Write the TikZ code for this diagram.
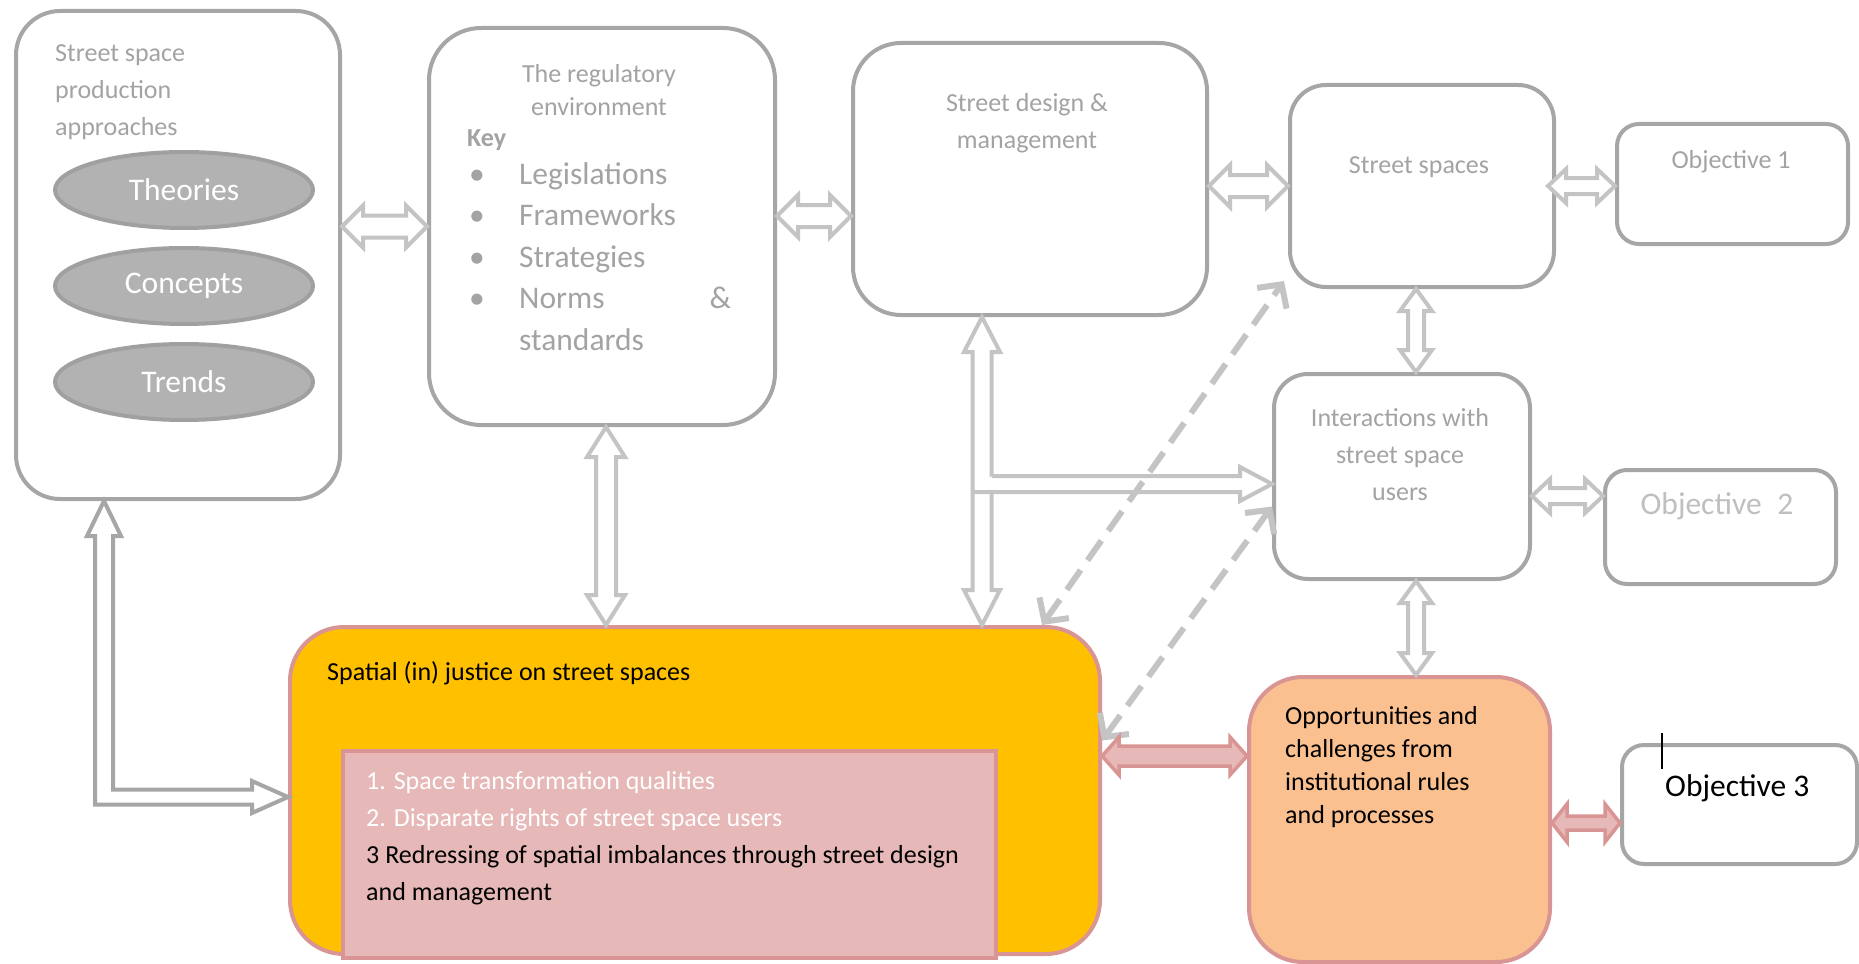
\documentclass[tikz,border=0pt]{standalone}
\usepackage{fontspec}
\setmainfont{Carlito}
\usetikzlibrary{arrows.meta, calc, positioning, shapes.geometric}

\definecolor{boxgrey}{HTML}{A6A6A6}
\definecolor{textgrey}{HTML}{A3A3A3}
\definecolor{lightgrey}{HTML}{BFBFBF}
\definecolor{arrowgrey}{HTML}{C4C4C4}
\definecolor{ovalfill}{HTML}{B2B2B2}
\definecolor{ovalline}{HTML}{A0A0A0}
\definecolor{justfill}{HTML}{FFC000}
\definecolor{pinkline}{HTML}{D99594}
\definecolor{pinkfill}{HTML}{E6B8B7}
\definecolor{oppfill}{HTML}{FAC090}

\tikzset{
  x=1pt, y=-1pt, % one unit is one pixel, y runs downwards
  box/.style={draw=boxgrey, line width=4pt, fill=white, anchor=north west,
    inner sep=0pt},
  redbox/.style={box, draw=pinkline},
  topic/.style={ellipse, draw=ovalline, fill=ovalfill, line width=4pt,
    minimum width=258pt, minimum height=76pt, text=white,
    font=\fontsize{31.5}{38}\selectfont},
  txt/.style={inner sep=0pt, text=textgrey, align=left,
    font=\fontsize{26}{37}\selectfont},
  bigtxt/.style={txt, font=\fontsize{31.5}{41.5}\selectfont},
  % head length, head half width, shaft half width
  arrowsize/.code n args={3}{\def\ahl{#1}\def\ahw{#2}\def\asw{#3}},
  arrowsize={21pt}{21pt}{11pt},
  % hollow block arrow with a head at each end
  twohead/.style={to path={
      -- ($(\tikztostart)!\ahl!(\tikztotarget)!\ahw!90:(\tikztotarget)$)
      -- ($(\tikztostart)!\ahl!(\tikztotarget)!\asw!90:(\tikztotarget)$)
      -- ($(\tikztotarget)!\ahl!(\tikztostart)!\asw!-90:(\tikztostart)$)
      -- ($(\tikztotarget)!\ahl!(\tikztostart)!\ahw!-90:(\tikztostart)$)
      -- (\tikztotarget)
      -- ($(\tikztotarget)!\ahl!(\tikztostart)!\ahw!90:(\tikztostart)$)
      -- ($(\tikztotarget)!\ahl!(\tikztostart)!\asw!90:(\tikztostart)$)
      -- ($(\tikztostart)!\ahl!(\tikztotarget)!\asw!-90:(\tikztotarget)$)
      -- ($(\tikztostart)!\ahl!(\tikztotarget)!\ahw!-90:(\tikztotarget)$)
      -- cycle}},
  greyarrow/.style={draw=arrowgrey, line width=4pt, fill=white},
  backarrow/.style={greyarrow, draw=boxgrey},
  pinkarrow/.style={draw=pinkline, line width=3.5pt, fill=pinkfill},
  dasharrow/.style={draw=arrowgrey, line width=6pt,
    dash pattern=on 24pt off 12pt,
    {Straight Barb[length=17pt,width=36pt]}-{Straight Barb[length=17pt,width=36pt]}},
}

\begin{document}
\begin{tikzpicture}
  \useasboundingbox (0,0) rectangle (1859,963);

  % top row
  \node[box, minimum width=324pt, minimum height=488pt, rounded corners=44pt]
    (appr) at (14,9) {};
  \node[txt, anchor=north west] (apprtitle) at (55,44)
    {Street space\\production\\approaches};
  \node[topic] (theories) at (184,190) {Theories};
  \node[topic, below=16pt of theories] (concepts) {Concepts};
  \node[topic, below=16pt of concepts] (trends) {Trends};

  \node[box, minimum width=346pt, minimum height=397pt, rounded corners=52pt]
    (reg) at (427,26) {};
  \node[txt, anchor=north, align=center, font=\fontsize{26}{33}\selectfont]
    (regtitle) at (599,64) {The regulatory\\environment};
  \node[txt, anchor=north west, font=\fontsize{26}{33}\bfseries] (key) at (467,129) {Key};
  \node[bigtxt, anchor=north west, text width=262pt] (keylist) at (469,162)
    {\makebox[50pt][l]{\textbullet}Legislations\\
     \makebox[50pt][l]{\textbullet}Frameworks\\
     \makebox[50pt][l]{\textbullet}Strategies\\
     \makebox[50pt][l]{\textbullet}Norms\hfill\&\\
     \hspace*{50pt}standards};

  \node[box, minimum width=354pt, minimum height=272pt, rounded corners=48pt]
    (design) at (851,41) {};
  \node[txt, anchor=north, align=center] (designtitle) at (1027,93)
    {Street design \&\\management};

  \node[box, minimum width=264pt, minimum height=202pt, rounded corners=36pt]
    (streets) at (1288,83) {};
  \node[txt] (streetstitle) at (1419,167) {Street spaces};

  \node[box, minimum width=231pt, minimum height=120pt, rounded corners=22pt]
    (obj1) at (1615,122) {};
  \node[txt] (objonetxt) at (1731,162) {Objective 1};

  % middle right
  \node[box, minimum width=256pt, minimum height=205pt, rounded corners=34pt]
    (inter) at (1272,372) {};
  \node[txt, anchor=north, align=center] (intertitle) at (1400,408)
    {Interactions with\\street space\\users};

  \node[box, minimum width=231pt, minimum height=114pt, rounded corners=22pt]
    (obj2) at (1603,468) {};
  \node[bigtxt, text=lightgrey] (objtwotxt) at (1717,506) {Objective\enspace 2};

  % bottom row
  \node[redbox, fill=justfill, minimum width=810pt, minimum height=327pt,
    rounded corners=54pt] (just) at (288,625) {};
  \node[txt, anchor=north west, text=black] (justtitle) at (327,661)
    {Spatial (in) justice on street spaces};
  \node[redbox, fill=pinkfill, minimum width=653pt, minimum height=207pt]
    (aspects) at (341,749) {};
  \node[txt, anchor=north west, text=black] (aspectlist) at (366,771)
    {\textcolor{white}{1. Space transformation qualities}\\
     \textcolor{white}{2. Disparate rights of street space users}\\
     3 Redressing of spatial imbalances through street design\\
     and management};

  \node[redbox, fill=oppfill, minimum width=301pt, minimum height=285pt,
    rounded corners=54pt] (opp) at (1247,675) {};
  \node[txt, anchor=north west, text=black, font=\fontsize{26}{33}\selectfont]
    (opptitle) at (1285,706)
    {Opportunities and\\challenges from\\institutional rules\\and processes};

  \node[box, minimum width=235pt, minimum height=119pt, rounded corners=22pt]
    (obj3) at (1620,743) {};
  \node[bigtxt, anchor=west, text=black] (objthreetxt) at (1665,788) {Objective 3};
  \draw[line width=1.5pt] ([xshift=-3pt, yshift=41pt]objthreetxt.north west)
    -- ++(0,36);

  % block arrows between the boxes
  \coordinate (ab) at (appr.east |- reg.west);
  \coordinate (bc) at (reg.east |- 0,216);
  \coordinate (cd) at (design.east |- streets.west);
  \coordinate (do) at ([xshift=-8pt]streets.east);
  \coordinate (eo) at (inter.east |- 0,496);
  \coordinate (dsplit) at (982,484);
  \coordinate (lbend) at (104,797);
  \coordinate (fo) at (just.east |- 0,756);
  \coordinate (ho) at (opp.east |- 0,823);

  \draw[greyarrow] (ab) to[twohead] (reg.west);
  \draw[greyarrow] (bc) to[twohead] (design.west |- bc);
  \draw[greyarrow] (cd) to[twohead] (streets.west |- cd);
  \draw[greyarrow, arrowsize={18pt}{17pt}{8pt}] (do) to[twohead] (obj1.west |- do);
  \draw[greyarrow, arrowsize={18pt}{17pt}{8pt}] (eo) to[twohead] (obj2.west |- eo);
  \draw[greyarrow, arrowsize={22pt}{16pt}{8pt}]
    (streets.south -| 1416,0) to[twohead] (inter.north -| 1416,0);
  \draw[greyarrow, arrowsize={22pt}{16pt}{8pt}]
    (inter.south -| 1416,0) to[twohead] (opp.north -| 1416,0);
  \draw[greyarrow, arrowsize={30pt}{19pt}{10pt}]
    (reg.south -| 606,0) to[twohead] (just.north -| 606,0);

  % design and management feeds down and across
  \draw[greyarrow, arrowsize={35pt}{18pt}{9.5pt}]
    (design.south -| dsplit) to[twohead] (just.north -| dsplit);
  \draw[greyarrow]
    ($(dsplit)+(9.5,-8)$) -- ($(inter.west |- dsplit)+(-32,-8)$) -- ++(0,-9)
    -- (inter.west |- dsplit) -- ++(-32,17) -- ++(0,-9)
    -- ($(dsplit)+(-9.5,8)$);

  % approaches back to spatial justice
  \draw[backarrow]
    (appr.south -| lbend) -- ++(17,35) -- ++(-8,0)
    |- ($(just.west |- lbend)+(-36,-7.5)$) -- ++(0,-8.5)
    -- (just.west |- lbend) -- ++(-36,16) -- ++(0,-8.5)
    -| ($(appr.south -| lbend)+(-9,35)$) -- ++(-8,0) -- cycle;

  % dashed links
  \draw[dasharrow] ([xshift=-60pt]just.north east)
    -- ([shift={(-4,-8)}]streets.south west);
  \draw[dasharrow] ([yshift=50pt]just.east) -- ([yshift=-30pt]inter.west);

  % pink links
  \draw[pinkarrow, arrowsize={17pt}{19pt}{10pt}] (fo) to[twohead] (opp.west |- fo);
  \draw[pinkarrow, arrowsize={15pt}{19pt}{7pt}] (ho) to[twohead] (obj3.west |- ho);
\end{tikzpicture}
\end{document}
